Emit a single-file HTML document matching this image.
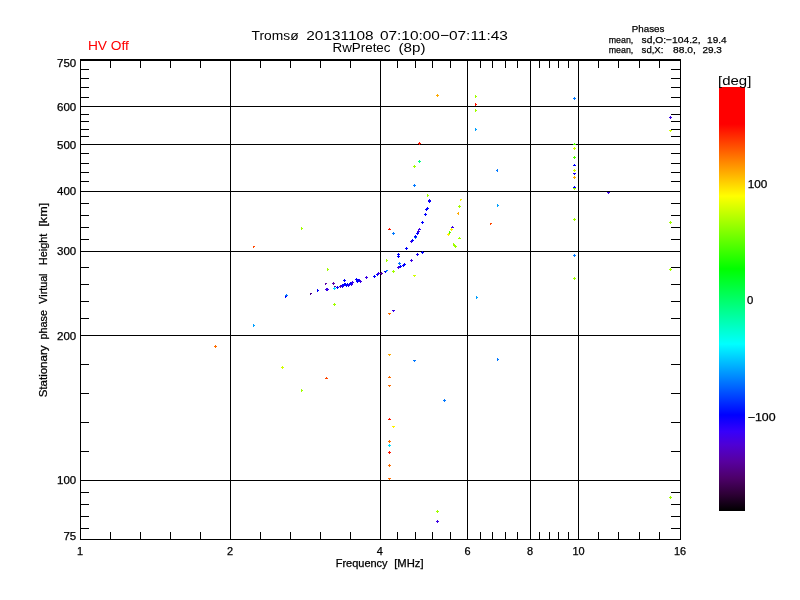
<!DOCTYPE html>
<html><head><meta charset="utf-8"><title>Tromsø RwPretec</title>
<style>
html,body{margin:0;padding:0;background:#fff;}
body{width:800px;height:600px;overflow:hidden;}
svg{display:block;}
text{font-family:"Liberation Sans",sans-serif;fill:#000;}
.sm text{stroke:#000;stroke-width:0.25px;}
</style></head><body>
<svg width="800" height="600" viewBox="0 0 800 600">
<defs><linearGradient id="cb" x1="0" y1="0" x2="0" y2="1">
<stop offset="0.0" stop-color="#ff0000"/>
<stop offset="0.0873" stop-color="#ff0000"/>
<stop offset="0.2571" stop-color="#ffff00"/>
<stop offset="0.4292" stop-color="#00ff00"/>
<stop offset="0.6061" stop-color="#00ffff"/>
<stop offset="0.7736" stop-color="#0000ff"/>
<stop offset="0.8125" stop-color="#3700fa"/>
<stop offset="0.8439" stop-color="#4e00d5"/>
<stop offset="0.8828" stop-color="#5700a0"/>
<stop offset="0.9219" stop-color="#4d006a"/>
<stop offset="0.9608" stop-color="#2d0035"/>
<stop offset="1.0" stop-color="#000000"/>
</linearGradient></defs>
<rect x="0" y="0" width="800" height="600" fill="#fff"/>
<rect x="719" y="87" width="26" height="424" fill="url(#cb)"/>
<g shape-rendering="crispEdges">
<rect x="80" y="59" width="601" height="2" fill="#000"/>
<rect x="80" y="539" width="601" height="1" fill="#000"/>
<rect x="80" y="59" width="1" height="481" fill="#000"/>
<rect x="680" y="59" width="1" height="481" fill="#000"/>
<rect x="230" y="59" width="1" height="481" fill="#000"/>
<rect x="380" y="59" width="1" height="481" fill="#000"/>
<rect x="467" y="59" width="1" height="481" fill="#000"/>
<rect x="530" y="59" width="1" height="481" fill="#000"/>
<rect x="578" y="59" width="1" height="481" fill="#000"/>
<rect x="80" y="106" width="601" height="1" fill="#000"/>
<rect x="80" y="144" width="601" height="1" fill="#000"/>
<rect x="80" y="191" width="601" height="1" fill="#000"/>
<rect x="80" y="251" width="601" height="1" fill="#000"/>
<rect x="80" y="335" width="601" height="1" fill="#000"/>
<rect x="80" y="480" width="601" height="1" fill="#000"/>
<rect x="110" y="61" width="1" height="7" fill="#000"/>
<rect x="110" y="532" width="1" height="7" fill="#000"/>
<rect x="140" y="61" width="1" height="7" fill="#000"/>
<rect x="140" y="532" width="1" height="7" fill="#000"/>
<rect x="170" y="61" width="1" height="7" fill="#000"/>
<rect x="170" y="532" width="1" height="7" fill="#000"/>
<rect x="200" y="61" width="1" height="7" fill="#000"/>
<rect x="200" y="532" width="1" height="7" fill="#000"/>
<rect x="260" y="61" width="1" height="7" fill="#000"/>
<rect x="260" y="532" width="1" height="7" fill="#000"/>
<rect x="290" y="61" width="1" height="7" fill="#000"/>
<rect x="290" y="532" width="1" height="7" fill="#000"/>
<rect x="320" y="61" width="1" height="7" fill="#000"/>
<rect x="320" y="532" width="1" height="7" fill="#000"/>
<rect x="350" y="61" width="1" height="7" fill="#000"/>
<rect x="350" y="532" width="1" height="7" fill="#000"/>
<rect x="397" y="61" width="1" height="7" fill="#000"/>
<rect x="397" y="532" width="1" height="7" fill="#000"/>
<rect x="415" y="61" width="1" height="7" fill="#000"/>
<rect x="415" y="532" width="1" height="7" fill="#000"/>
<rect x="432" y="61" width="1" height="7" fill="#000"/>
<rect x="432" y="532" width="1" height="7" fill="#000"/>
<rect x="450" y="61" width="1" height="7" fill="#000"/>
<rect x="450" y="532" width="1" height="7" fill="#000"/>
<rect x="480" y="61" width="1" height="7" fill="#000"/>
<rect x="480" y="532" width="1" height="7" fill="#000"/>
<rect x="492" y="61" width="1" height="7" fill="#000"/>
<rect x="492" y="532" width="1" height="7" fill="#000"/>
<rect x="505" y="61" width="1" height="7" fill="#000"/>
<rect x="505" y="532" width="1" height="7" fill="#000"/>
<rect x="517" y="61" width="1" height="7" fill="#000"/>
<rect x="517" y="532" width="1" height="7" fill="#000"/>
<rect x="539" y="61" width="1" height="7" fill="#000"/>
<rect x="539" y="532" width="1" height="7" fill="#000"/>
<rect x="549" y="61" width="1" height="7" fill="#000"/>
<rect x="549" y="532" width="1" height="7" fill="#000"/>
<rect x="558" y="61" width="1" height="7" fill="#000"/>
<rect x="558" y="532" width="1" height="7" fill="#000"/>
<rect x="568" y="61" width="1" height="7" fill="#000"/>
<rect x="568" y="532" width="1" height="7" fill="#000"/>
<rect x="598" y="61" width="1" height="7" fill="#000"/>
<rect x="598" y="532" width="1" height="7" fill="#000"/>
<rect x="618" y="61" width="1" height="7" fill="#000"/>
<rect x="618" y="532" width="1" height="7" fill="#000"/>
<rect x="639" y="61" width="1" height="7" fill="#000"/>
<rect x="639" y="532" width="1" height="7" fill="#000"/>
<rect x="659" y="61" width="1" height="7" fill="#000"/>
<rect x="659" y="532" width="1" height="7" fill="#000"/>
<rect x="81" y="69" width="8" height="1" fill="#000"/>
<rect x="671" y="69" width="9" height="1" fill="#000"/>
<rect x="81" y="78" width="8" height="1" fill="#000"/>
<rect x="671" y="78" width="9" height="1" fill="#000"/>
<rect x="81" y="87" width="8" height="1" fill="#000"/>
<rect x="671" y="87" width="9" height="1" fill="#000"/>
<rect x="81" y="97" width="8" height="1" fill="#000"/>
<rect x="671" y="97" width="9" height="1" fill="#000"/>
<rect x="81" y="114" width="8" height="1" fill="#000"/>
<rect x="671" y="114" width="9" height="1" fill="#000"/>
<rect x="81" y="121" width="8" height="1" fill="#000"/>
<rect x="671" y="121" width="9" height="1" fill="#000"/>
<rect x="81" y="129" width="8" height="1" fill="#000"/>
<rect x="671" y="129" width="9" height="1" fill="#000"/>
<rect x="81" y="136" width="8" height="1" fill="#000"/>
<rect x="671" y="136" width="9" height="1" fill="#000"/>
<rect x="81" y="153" width="8" height="1" fill="#000"/>
<rect x="671" y="153" width="9" height="1" fill="#000"/>
<rect x="81" y="163" width="8" height="1" fill="#000"/>
<rect x="671" y="163" width="9" height="1" fill="#000"/>
<rect x="81" y="172" width="8" height="1" fill="#000"/>
<rect x="671" y="172" width="9" height="1" fill="#000"/>
<rect x="81" y="181" width="8" height="1" fill="#000"/>
<rect x="671" y="181" width="9" height="1" fill="#000"/>
<rect x="81" y="203" width="8" height="1" fill="#000"/>
<rect x="671" y="203" width="9" height="1" fill="#000"/>
<rect x="81" y="215" width="8" height="1" fill="#000"/>
<rect x="671" y="215" width="9" height="1" fill="#000"/>
<rect x="81" y="227" width="8" height="1" fill="#000"/>
<rect x="671" y="227" width="9" height="1" fill="#000"/>
<rect x="81" y="239" width="8" height="1" fill="#000"/>
<rect x="671" y="239" width="9" height="1" fill="#000"/>
<rect x="81" y="267" width="8" height="1" fill="#000"/>
<rect x="671" y="267" width="9" height="1" fill="#000"/>
<rect x="81" y="284" width="8" height="1" fill="#000"/>
<rect x="671" y="284" width="9" height="1" fill="#000"/>
<rect x="81" y="301" width="8" height="1" fill="#000"/>
<rect x="671" y="301" width="9" height="1" fill="#000"/>
<rect x="81" y="318" width="8" height="1" fill="#000"/>
<rect x="671" y="318" width="9" height="1" fill="#000"/>
<rect x="81" y="364" width="8" height="1" fill="#000"/>
<rect x="671" y="364" width="9" height="1" fill="#000"/>
<rect x="81" y="393" width="8" height="1" fill="#000"/>
<rect x="671" y="393" width="9" height="1" fill="#000"/>
<rect x="81" y="422" width="8" height="1" fill="#000"/>
<rect x="671" y="422" width="9" height="1" fill="#000"/>
<rect x="81" y="451" width="8" height="1" fill="#000"/>
<rect x="671" y="451" width="9" height="1" fill="#000"/>
<rect x="81" y="492" width="8" height="1" fill="#000"/>
<rect x="671" y="492" width="9" height="1" fill="#000"/>
<rect x="81" y="504" width="8" height="1" fill="#000"/>
<rect x="671" y="504" width="9" height="1" fill="#000"/>
<rect x="81" y="516" width="8" height="1" fill="#000"/>
<rect x="671" y="516" width="9" height="1" fill="#000"/>
<rect x="81" y="528" width="8" height="1" fill="#000"/>
<rect x="671" y="528" width="9" height="1" fill="#000"/>
<rect x="285" y="295" width="3" height="1" fill="#0078ff"/>
<rect x="286" y="294" width="1" height="3" fill="#0078ff"/>
<rect x="285" y="296" width="2" height="1" fill="#0000ff"/>
<rect x="285" y="297" width="1" height="1" fill="#0000ff"/>
<rect x="310" y="293" width="2" height="1" fill="#48008a"/>
<rect x="310" y="294" width="1" height="1" fill="#48008a"/>
<rect x="317" y="289" width="1" height="3" fill="#0000ff"/>
<rect x="318" y="290" width="1" height="1" fill="#0000ff"/>
<rect x="325" y="283" width="2" height="1" fill="#5a00a8"/>
<rect x="325" y="284" width="1" height="1" fill="#5a00a8"/>
<rect x="326" y="289" width="3" height="1" fill="#3c00e6"/>
<rect x="327" y="288" width="1" height="3" fill="#3c00e6"/>
<rect x="325" y="289" width="3" height="1" fill="#3c00e6"/>
<rect x="326" y="288" width="1" height="3" fill="#3c00e6"/>
<rect x="332" y="283" width="3" height="1" fill="#5a00a8"/>
<rect x="333" y="282" width="1" height="3" fill="#5a00a8"/>
<rect x="334" y="286" width="2" height="1" fill="#5a00a8"/>
<rect x="334" y="287" width="1" height="1" fill="#5a00a8"/>
<rect x="333" y="288" width="3" height="1" fill="#00dcff"/>
<rect x="334" y="287" width="1" height="3" fill="#00dcff"/>
<rect x="327" y="268" width="1" height="3" fill="#a0ff00"/>
<rect x="328" y="269" width="1" height="1" fill="#a0ff00"/>
<rect x="333" y="304" width="3" height="1" fill="#a0ff00"/>
<rect x="334" y="303" width="1" height="3" fill="#a0ff00"/>
<rect x="336" y="287" width="3" height="1" fill="#0000ff"/>
<rect x="337" y="286" width="1" height="3" fill="#0000ff"/>
<rect x="339" y="286" width="3" height="1" fill="#5a00a8"/>
<rect x="340" y="285" width="1" height="3" fill="#5a00a8"/>
<rect x="341" y="285" width="3" height="1" fill="#0000ff"/>
<rect x="342" y="284" width="1" height="3" fill="#0000ff"/>
<rect x="343" y="280" width="3" height="1" fill="#0000ff"/>
<rect x="344" y="279" width="1" height="3" fill="#0000ff"/>
<rect x="343" y="284" width="3" height="1" fill="#0000ff"/>
<rect x="344" y="283" width="1" height="3" fill="#0000ff"/>
<rect x="345" y="285" width="3" height="1" fill="#0000ff"/>
<rect x="346" y="284" width="1" height="3" fill="#0000ff"/>
<rect x="346" y="284" width="3" height="1" fill="#0000ff"/>
<rect x="347" y="283" width="1" height="3" fill="#0000ff"/>
<rect x="348" y="284" width="3" height="1" fill="#1a00f0"/>
<rect x="349" y="283" width="1" height="3" fill="#1a00f0"/>
<rect x="350" y="284" width="3" height="1" fill="#3c00e6"/>
<rect x="351" y="283" width="1" height="3" fill="#3c00e6"/>
<rect x="351" y="282" width="3" height="1" fill="#3c00e6"/>
<rect x="352" y="281" width="1" height="3" fill="#3c00e6"/>
<rect x="355" y="279" width="3" height="1" fill="#0000ff"/>
<rect x="356" y="278" width="1" height="3" fill="#0000ff"/>
<rect x="356" y="281" width="3" height="1" fill="#0000ff"/>
<rect x="357" y="280" width="1" height="3" fill="#0000ff"/>
<rect x="358" y="280" width="3" height="1" fill="#3c00e6"/>
<rect x="359" y="279" width="1" height="3" fill="#3c00e6"/>
<rect x="359" y="281" width="3" height="1" fill="#3c00e6"/>
<rect x="360" y="280" width="1" height="3" fill="#3c00e6"/>
<rect x="365" y="277" width="3" height="1" fill="#3c00e6"/>
<rect x="366" y="276" width="1" height="3" fill="#3c00e6"/>
<rect x="373" y="276" width="3" height="1" fill="#0000ff"/>
<rect x="374" y="275" width="1" height="3" fill="#0000ff"/>
<rect x="376" y="274" width="3" height="1" fill="#0000ff"/>
<rect x="377" y="273" width="1" height="3" fill="#0000ff"/>
<rect x="377" y="273" width="3" height="1" fill="#3c00e6"/>
<rect x="378" y="272" width="1" height="3" fill="#3c00e6"/>
<rect x="380" y="273" width="3" height="1" fill="#5a00a8"/>
<rect x="381" y="272" width="1" height="3" fill="#5a00a8"/>
<rect x="384" y="271" width="3" height="1" fill="#0000ff"/>
<rect x="385" y="272" width="1" height="1" fill="#0000ff"/>
<rect x="386" y="270" width="2" height="1" fill="#0078ff"/>
<rect x="386" y="271" width="1" height="1" fill="#0078ff"/>
<rect x="386" y="259" width="1" height="3" fill="#a0ff00"/>
<rect x="387" y="260" width="1" height="1" fill="#a0ff00"/>
<rect x="392" y="271" width="3" height="1" fill="#a0ff00"/>
<rect x="393" y="270" width="1" height="3" fill="#a0ff00"/>
<rect x="392" y="233" width="3" height="1" fill="#0078ff"/>
<rect x="393" y="232" width="1" height="3" fill="#0078ff"/>
<rect x="397" y="254" width="3" height="1" fill="#0000ff"/>
<rect x="398" y="253" width="1" height="3" fill="#0000ff"/>
<rect x="397" y="256" width="3" height="1" fill="#0000ff"/>
<rect x="398" y="255" width="1" height="3" fill="#0000ff"/>
<rect x="398" y="263" width="3" height="1" fill="#0078ff"/>
<rect x="399" y="262" width="1" height="3" fill="#0078ff"/>
<rect x="397" y="267" width="3" height="1" fill="#3c00e6"/>
<rect x="398" y="266" width="1" height="3" fill="#3c00e6"/>
<rect x="399" y="266" width="3" height="1" fill="#0000ff"/>
<rect x="400" y="265" width="1" height="3" fill="#0000ff"/>
<rect x="403" y="264" width="3" height="1" fill="#0000ff"/>
<rect x="404" y="263" width="1" height="3" fill="#0000ff"/>
<rect x="402" y="265" width="3" height="1" fill="#0000ff"/>
<rect x="403" y="264" width="1" height="3" fill="#0000ff"/>
<rect x="405" y="248" width="3" height="1" fill="#0000ff"/>
<rect x="406" y="247" width="1" height="3" fill="#0000ff"/>
<rect x="410" y="260" width="3" height="1" fill="#3c00e6"/>
<rect x="411" y="259" width="1" height="3" fill="#3c00e6"/>
<rect x="410" y="241" width="3" height="1" fill="#3c00e6"/>
<rect x="411" y="240" width="1" height="3" fill="#3c00e6"/>
<rect x="411" y="240" width="3" height="1" fill="#0000ff"/>
<rect x="412" y="239" width="1" height="3" fill="#0000ff"/>
<rect x="413" y="275" width="3" height="1" fill="#d2ff00"/>
<rect x="414" y="276" width="1" height="1" fill="#d2ff00"/>
<rect x="414" y="237" width="3" height="1" fill="#0078ff"/>
<rect x="415" y="236" width="1" height="3" fill="#0078ff"/>
<rect x="414" y="236" width="3" height="1" fill="#0000ff"/>
<rect x="415" y="235" width="1" height="3" fill="#0000ff"/>
<rect x="416" y="233" width="3" height="1" fill="#0000ff"/>
<rect x="417" y="232" width="1" height="3" fill="#0000ff"/>
<rect x="417" y="231" width="3" height="1" fill="#3c00e6"/>
<rect x="418" y="230" width="1" height="3" fill="#3c00e6"/>
<rect x="416" y="254" width="3" height="1" fill="#1a00f0"/>
<rect x="417" y="253" width="1" height="3" fill="#1a00f0"/>
<rect x="421" y="252" width="3" height="1" fill="#0000ff"/>
<rect x="422" y="251" width="1" height="3" fill="#0000ff"/>
<rect x="418" y="229" width="3" height="1" fill="#3c00e6"/>
<rect x="419" y="228" width="1" height="1" fill="#3c00e6"/>
<rect x="421" y="222" width="3" height="1" fill="#0000ff"/>
<rect x="422" y="221" width="1" height="3" fill="#0000ff"/>
<rect x="424" y="214" width="3" height="1" fill="#0000ff"/>
<rect x="425" y="213" width="1" height="3" fill="#0000ff"/>
<rect x="426" y="208" width="3" height="1" fill="#0000ff"/>
<rect x="427" y="207" width="1" height="3" fill="#0000ff"/>
<rect x="425" y="209" width="3" height="1" fill="#0000ff"/>
<rect x="426" y="208" width="1" height="3" fill="#0000ff"/>
<rect x="428" y="201" width="3" height="1" fill="#0000ff"/>
<rect x="429" y="200" width="1" height="3" fill="#0000ff"/>
<rect x="428" y="200" width="3" height="1" fill="#1a00f0"/>
<rect x="429" y="199" width="1" height="3" fill="#1a00f0"/>
<rect x="427" y="194" width="1" height="3" fill="#a0ff00"/>
<rect x="428" y="195" width="1" height="1" fill="#a0ff00"/>
<rect x="413" y="185" width="3" height="1" fill="#0078ff"/>
<rect x="414" y="184" width="1" height="3" fill="#0078ff"/>
<rect x="413" y="166" width="3" height="1" fill="#a0ff00"/>
<rect x="414" y="165" width="1" height="3" fill="#a0ff00"/>
<rect x="418" y="161" width="3" height="1" fill="#00ff82"/>
<rect x="419" y="160" width="1" height="3" fill="#00ff82"/>
<rect x="388" y="229" width="3" height="1" fill="#ff1400"/>
<rect x="389" y="228" width="1" height="1" fill="#ff1400"/>
<rect x="451" y="227" width="3" height="1" fill="#3c00e6"/>
<rect x="452" y="226" width="1" height="1" fill="#3c00e6"/>
<rect x="450" y="229" width="3" height="1" fill="#fff000"/>
<rect x="451" y="228" width="1" height="3" fill="#fff000"/>
<rect x="449" y="231" width="1" height="3" fill="#50ff00"/>
<rect x="450" y="232" width="1" height="1" fill="#50ff00"/>
<rect x="447" y="234" width="3" height="1" fill="#fff000"/>
<rect x="448" y="233" width="1" height="3" fill="#fff000"/>
<rect x="458" y="238" width="3" height="1" fill="#a0ff00"/>
<rect x="459" y="237" width="1" height="1" fill="#a0ff00"/>
<rect x="453" y="243" width="1" height="3" fill="#a0ff00"/>
<rect x="454" y="244" width="1" height="1" fill="#a0ff00"/>
<rect x="453" y="245" width="3" height="1" fill="#a0ff00"/>
<rect x="454" y="244" width="1" height="3" fill="#a0ff00"/>
<rect x="454" y="246" width="3" height="1" fill="#a0ff00"/>
<rect x="455" y="245" width="1" height="3" fill="#a0ff00"/>
<rect x="460" y="199" width="2" height="1" fill="#fff000"/>
<rect x="460" y="200" width="1" height="1" fill="#fff000"/>
<rect x="458" y="206" width="3" height="1" fill="#a0ff00"/>
<rect x="459" y="205" width="1" height="3" fill="#a0ff00"/>
<rect x="458" y="212" width="1" height="3" fill="#ffaa00"/>
<rect x="457" y="213" width="1" height="1" fill="#ffaa00"/>
<rect x="497" y="169" width="1" height="3" fill="#0078ff"/>
<rect x="496" y="170" width="1" height="1" fill="#0078ff"/>
<rect x="497" y="204" width="1" height="3" fill="#00a0ff"/>
<rect x="498" y="205" width="1" height="1" fill="#00a0ff"/>
<rect x="490" y="223" width="2" height="1" fill="#ff4600"/>
<rect x="490" y="224" width="1" height="1" fill="#ff4600"/>
<rect x="476" y="296" width="1" height="3" fill="#00a0ff"/>
<rect x="477" y="297" width="1" height="1" fill="#00a0ff"/>
<rect x="436" y="95" width="3" height="1" fill="#ffaa00"/>
<rect x="437" y="94" width="1" height="3" fill="#ffaa00"/>
<rect x="475" y="95" width="1" height="3" fill="#a0ff00"/>
<rect x="476" y="96" width="1" height="1" fill="#a0ff00"/>
<rect x="475" y="103" width="1" height="3" fill="#ff1400"/>
<rect x="476" y="104" width="1" height="1" fill="#ff1400"/>
<rect x="475" y="109" width="1" height="3" fill="#a0ff00"/>
<rect x="476" y="110" width="1" height="1" fill="#a0ff00"/>
<rect x="475" y="128" width="1" height="3" fill="#00a0ff"/>
<rect x="476" y="129" width="1" height="1" fill="#00a0ff"/>
<rect x="418" y="143" width="3" height="1" fill="#ff1400"/>
<rect x="419" y="142" width="1" height="3" fill="#ff1400"/>
<rect x="573" y="98" width="3" height="1" fill="#0078ff"/>
<rect x="574" y="97" width="1" height="3" fill="#0078ff"/>
<rect x="669" y="117" width="3" height="1" fill="#3c00e6"/>
<rect x="670" y="116" width="1" height="3" fill="#3c00e6"/>
<rect x="669" y="130" width="3" height="1" fill="#d2ff00"/>
<rect x="670" y="131" width="1" height="1" fill="#d2ff00"/>
<rect x="573" y="144" width="3" height="1" fill="#50ff00"/>
<rect x="574" y="143" width="1" height="1" fill="#50ff00"/>
<rect x="573" y="148" width="3" height="1" fill="#d2ff00"/>
<rect x="574" y="147" width="1" height="3" fill="#d2ff00"/>
<rect x="573" y="157" width="3" height="1" fill="#50ff00"/>
<rect x="574" y="156" width="1" height="3" fill="#50ff00"/>
<rect x="573" y="165" width="3" height="1" fill="#0000ff"/>
<rect x="574" y="164" width="1" height="1" fill="#0000ff"/>
<rect x="573" y="170" width="3" height="1" fill="#d2ff00"/>
<rect x="574" y="169" width="1" height="3" fill="#d2ff00"/>
<rect x="573" y="173" width="3" height="1" fill="#1a00f0"/>
<rect x="574" y="174" width="1" height="1" fill="#1a00f0"/>
<rect x="573" y="177" width="3" height="1" fill="#ffaa00"/>
<rect x="574" y="176" width="1" height="3" fill="#ffaa00"/>
<rect x="573" y="188" width="3" height="1" fill="#a0ff00"/>
<rect x="574" y="187" width="1" height="3" fill="#a0ff00"/>
<rect x="573" y="187" width="3" height="1" fill="#0000ff"/>
<rect x="574" y="186" width="1" height="1" fill="#0000ff"/>
<rect x="607" y="192" width="3" height="1" fill="#3c00e6"/>
<rect x="608" y="193" width="1" height="1" fill="#3c00e6"/>
<rect x="573" y="219" width="3" height="1" fill="#a0ff00"/>
<rect x="574" y="218" width="1" height="3" fill="#a0ff00"/>
<rect x="669" y="222" width="3" height="1" fill="#a0ff00"/>
<rect x="670" y="221" width="1" height="3" fill="#a0ff00"/>
<rect x="573" y="255" width="3" height="1" fill="#0078ff"/>
<rect x="574" y="254" width="1" height="3" fill="#0078ff"/>
<rect x="669" y="269" width="3" height="1" fill="#a0ff00"/>
<rect x="670" y="268" width="1" height="3" fill="#a0ff00"/>
<rect x="573" y="278" width="3" height="1" fill="#a0ff00"/>
<rect x="574" y="277" width="1" height="3" fill="#a0ff00"/>
<rect x="669" y="497" width="3" height="1" fill="#a0ff00"/>
<rect x="670" y="496" width="1" height="3" fill="#a0ff00"/>
<rect x="392" y="310" width="3" height="1" fill="#3c00e6"/>
<rect x="393" y="311" width="1" height="1" fill="#3c00e6"/>
<rect x="388" y="313" width="3" height="1" fill="#ff6e00"/>
<rect x="389" y="314" width="1" height="1" fill="#ff6e00"/>
<rect x="388" y="354" width="3" height="1" fill="#ffaa00"/>
<rect x="389" y="355" width="1" height="1" fill="#ffaa00"/>
<rect x="413" y="360" width="3" height="1" fill="#0078ff"/>
<rect x="414" y="361" width="1" height="1" fill="#0078ff"/>
<rect x="497" y="358" width="1" height="3" fill="#0078ff"/>
<rect x="498" y="359" width="1" height="1" fill="#0078ff"/>
<rect x="388" y="377" width="3" height="1" fill="#ff6e00"/>
<rect x="389" y="376" width="1" height="1" fill="#ff6e00"/>
<rect x="388" y="385" width="3" height="1" fill="#ff6e00"/>
<rect x="389" y="386" width="1" height="1" fill="#ff6e00"/>
<rect x="443" y="400" width="3" height="1" fill="#0078ff"/>
<rect x="444" y="399" width="1" height="3" fill="#0078ff"/>
<rect x="388" y="419" width="3" height="1" fill="#ff1400"/>
<rect x="389" y="418" width="1" height="1" fill="#ff1400"/>
<rect x="392" y="426" width="3" height="1" fill="#fff000"/>
<rect x="393" y="427" width="1" height="1" fill="#fff000"/>
<rect x="388" y="441" width="3" height="1" fill="#ff6e00"/>
<rect x="389" y="440" width="1" height="3" fill="#ff6e00"/>
<rect x="388" y="445" width="3" height="1" fill="#00dcff"/>
<rect x="389" y="444" width="1" height="3" fill="#00dcff"/>
<rect x="388" y="452" width="3" height="1" fill="#ff1400"/>
<rect x="389" y="451" width="1" height="3" fill="#ff1400"/>
<rect x="388" y="465" width="3" height="1" fill="#ff6e00"/>
<rect x="389" y="464" width="1" height="3" fill="#ff6e00"/>
<rect x="388" y="478" width="3" height="1" fill="#ff6e00"/>
<rect x="389" y="479" width="1" height="1" fill="#ff6e00"/>
<rect x="436" y="511" width="3" height="1" fill="#a0ff00"/>
<rect x="437" y="510" width="1" height="3" fill="#a0ff00"/>
<rect x="436" y="521" width="3" height="1" fill="#3c00e6"/>
<rect x="437" y="520" width="1" height="3" fill="#3c00e6"/>
<rect x="253" y="246" width="2" height="1" fill="#ff4600"/>
<rect x="253" y="247" width="1" height="1" fill="#ff4600"/>
<rect x="301" y="227" width="1" height="3" fill="#a0ff00"/>
<rect x="302" y="228" width="1" height="1" fill="#a0ff00"/>
<rect x="253" y="324" width="1" height="3" fill="#00a0ff"/>
<rect x="254" y="325" width="1" height="1" fill="#00a0ff"/>
<rect x="214" y="346" width="3" height="1" fill="#ff6e00"/>
<rect x="215" y="345" width="1" height="3" fill="#ff6e00"/>
<rect x="281" y="367" width="3" height="1" fill="#d2ff00"/>
<rect x="282" y="366" width="1" height="3" fill="#d2ff00"/>
<rect x="325" y="378" width="3" height="1" fill="#ff4600"/>
<rect x="326" y="377" width="1" height="1" fill="#ff4600"/>
<rect x="301" y="389" width="1" height="3" fill="#a0ff00"/>
<rect x="302" y="390" width="1" height="1" fill="#a0ff00"/>
<rect x="341" y="286" width="3" height="1" fill="#1a00f0"/>
<rect x="342" y="285" width="1" height="3" fill="#1a00f0"/>
<rect x="344" y="284" width="3" height="1" fill="#0000ff"/>
<rect x="345" y="283" width="1" height="3" fill="#0000ff"/>
<rect x="347" y="285" width="3" height="1" fill="#1a00f0"/>
<rect x="348" y="284" width="1" height="3" fill="#1a00f0"/>
<rect x="349" y="283" width="3" height="1" fill="#0000ff"/>
<rect x="350" y="282" width="1" height="3" fill="#0000ff"/>
<rect x="357" y="280" width="3" height="1" fill="#0000ff"/>
<rect x="358" y="279" width="1" height="3" fill="#0000ff"/>
</g>
<g id="labels">
<text x="87.9" y="50" font-size="13.7" textLength="41.0" lengthAdjust="spacingAndGlyphs" style="fill:#ff0000">HV Off</text>
<text y="40" font-size="13.7"><tspan x="251.6" textLength="47.0" lengthAdjust="spacingAndGlyphs">Tromsø</tspan> <tspan x="306.3" textLength="67.3" lengthAdjust="spacingAndGlyphs">20131108</tspan> <tspan x="379.9" textLength="128.0" lengthAdjust="spacingAndGlyphs">07:10:00−07:11:43</tspan></text>
<text y="52" font-size="13.7"><tspan x="332.5" textLength="58.0" lengthAdjust="spacingAndGlyphs">RwPretec</tspan> <tspan x="398.5" textLength="27.0" lengthAdjust="spacingAndGlyphs">(8p)</tspan></text>
<text x="718" y="84.5" font-size="13.7" textLength="33.3" lengthAdjust="spacingAndGlyphs">[deg]</text>
<g class="sm">
<text x="631.8" y="31.8" font-size="9.8" textLength="32.6" lengthAdjust="spacingAndGlyphs">Phases</text>
<text y="42.7" font-size="9.8"><tspan x="608.7" textLength="24.6" lengthAdjust="spacingAndGlyphs">mean,</tspan> <tspan x="641.6" textLength="59.0" lengthAdjust="spacingAndGlyphs">sd,O:−104.2,</tspan> <tspan x="707.1" textLength="19.5" lengthAdjust="spacingAndGlyphs">19.4</tspan></text>
<text y="53.2" font-size="9.8"><tspan x="608.7" textLength="24.6" lengthAdjust="spacingAndGlyphs">mean,</tspan> <tspan x="641.6" textLength="21.8" lengthAdjust="spacingAndGlyphs">sd,X:</tspan> <tspan x="673.1" textLength="22.8" lengthAdjust="spacingAndGlyphs">88.0,</tspan> <tspan x="702.4" textLength="19.4" lengthAdjust="spacingAndGlyphs">29.3</tspan></text>
<text x="747.7" y="188" font-size="10.8" textLength="19.6" lengthAdjust="spacingAndGlyphs">100</text>
<text x="747" y="304" font-size="10.8" textLength="6.3" lengthAdjust="spacingAndGlyphs">0</text>
<text x="747.7" y="421" font-size="10.8" textLength="27.9" lengthAdjust="spacingAndGlyphs">−100</text>
<text x="57.0" y="66.7" font-size="10.6" textLength="19.2" lengthAdjust="spacingAndGlyphs">750</text>
<text x="57.0" y="110.7" font-size="10.6" textLength="19.2" lengthAdjust="spacingAndGlyphs">600</text>
<text x="57.0" y="148.7" font-size="10.6" textLength="19.2" lengthAdjust="spacingAndGlyphs">500</text>
<text x="57.0" y="195.2" font-size="10.6" textLength="19.2" lengthAdjust="spacingAndGlyphs">400</text>
<text x="57.0" y="255.2" font-size="10.6" textLength="19.2" lengthAdjust="spacingAndGlyphs">300</text>
<text x="57.0" y="339.7" font-size="10.6" textLength="19.2" lengthAdjust="spacingAndGlyphs">200</text>
<text x="57.0" y="483.7" font-size="10.6" textLength="19.2" lengthAdjust="spacingAndGlyphs">100</text>
<text x="63.4" y="539.7" font-size="10.6" textLength="12.8" lengthAdjust="spacingAndGlyphs">75</text>
<text x="76.95" y="554.6" font-size="10.6" textLength="6.1" lengthAdjust="spacingAndGlyphs">1</text>
<text x="226.95" y="554.6" font-size="10.6" textLength="6.1" lengthAdjust="spacingAndGlyphs">2</text>
<text x="376.65" y="554.6" font-size="10.6" textLength="6.1" lengthAdjust="spacingAndGlyphs">4</text>
<text x="464.45" y="554.6" font-size="10.6" textLength="6.1" lengthAdjust="spacingAndGlyphs">6</text>
<text x="526.95" y="554.6" font-size="10.6" textLength="6.1" lengthAdjust="spacingAndGlyphs">8</text>
<text x="572.4" y="554.6" font-size="10.6" textLength="12.2" lengthAdjust="spacingAndGlyphs">10</text>
<text x="674.0" y="554.6" font-size="10.6" textLength="12.2" lengthAdjust="spacingAndGlyphs">16</text>
<text y="566.8" font-size="10.4"><tspan x="335.7" textLength="51.9" lengthAdjust="spacingAndGlyphs">Frequency</tspan> <tspan x="394.2" textLength="29.4" lengthAdjust="spacingAndGlyphs">[MHz]</tspan></text>
<text transform="translate(47,397.3) rotate(-90)" y="0" font-size="10.4"><tspan x="0" textLength="51.8" lengthAdjust="spacingAndGlyphs">Stationary</tspan> <tspan x="57.9" textLength="29.4" lengthAdjust="spacingAndGlyphs">phase</tspan> <tspan x="93.6" textLength="30.2" lengthAdjust="spacingAndGlyphs">Virtual</tspan> <tspan x="132.1" textLength="31.5" lengthAdjust="spacingAndGlyphs">Height</tspan> <tspan x="170.6" textLength="23.9" lengthAdjust="spacingAndGlyphs">[km]</tspan></text>
</g>
</g>
</svg>
</body></html>
